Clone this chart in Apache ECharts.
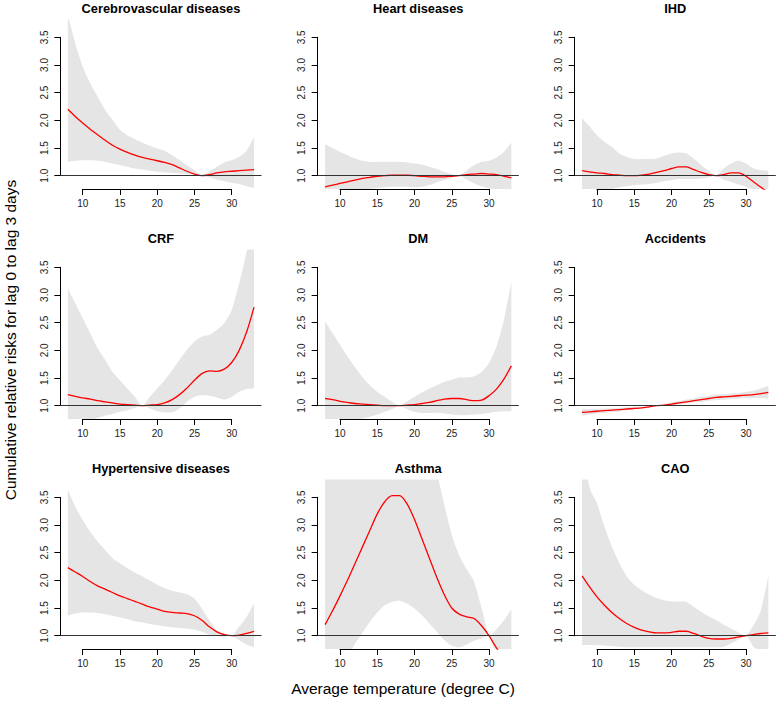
<!DOCTYPE html>
<html><head><meta charset="utf-8">
<script src="https://cdn.jsdelivr.net/npm/echarts@6/dist/echarts.min.js"></script>
<style>html,body{margin:0;padding:0;background:#fff}#c{width:779px;height:701px}</style>
</head><body><div id="c"></div>
<script>
// ---------- data ----------
const temps = [8,9,10,11,12,13,14,15,16,17,18,19,20,21,22,23,24,25,26,27,28,29,30,31,32,33];
const titles = ['Cerebrovascular diseases','Heart diseases','IHD','CRF','DM','Accidents','Hypertensive diseases','Asthma','CAO'];
const xTickValues = [10,15,20,25,30];
const yTickValues = [1.0,1.5,2.0,2.5,3.0,3.5];
const xAxisTitle = 'Average temperature (degree C)';
const yAxisTitle = 'Cumulative relative risks for lag 0 to lag 3 days';

const cerebEst = [2.20,2.07,1.95,1.84,1.74,1.64,1.55,1.48,1.42,1.37,1.33,1.30,1.27,1.24,1.20,1.14,1.08,1.03,1.00,1.02,1.05,1.07,1.08,1.09,1.10,1.11];
const cerebHi  = [3.90,3.39,2.97,2.67,2.43,2.19,2.01,1.83,1.73,1.66,1.60,1.54,1.49,1.45,1.37,1.28,1.19,1.10,1.00,1.08,1.16,1.24,1.28,1.34,1.45,1.70];
const cerebLo  = [1.25,1.27,1.28,1.28,1.27,1.25,1.22,1.19,1.16,1.13,1.11,1.09,1.07,1.06,1.05,1.04,1.03,1.02,1.00,0.97,0.93,0.90,0.87,0.85,0.81,0.78];

const heartEst = [0.80,0.83,0.86,0.89,0.92,0.95,0.97,0.99,1.00,1.01,1.01,1.01,1.00,0.99,0.98,0.98,0.98,0.99,1.00,1.02,1.03,1.04,1.03,1.02,0.99,0.96];
const heartHi  = [1.57,1.50,1.43,1.37,1.31,1.27,1.25,1.25,1.25,1.25,1.25,1.24,1.22,1.20,1.16,1.12,1.07,1.03,1.00,1.10,1.19,1.25,1.27,1.33,1.43,1.60];
const heartLo  = [0.55,0.60,0.64,0.68,0.71,0.74,0.76,0.78,0.79,0.80,0.80,0.80,0.79,0.80,0.83,0.88,0.92,0.96,1.00,0.93,0.86,0.81,0.77,0.74,0.70,0.66];

const ihdEst = [1.09,1.07,1.05,1.04,1.02,1.01,1.00,1.00,1.01,1.03,1.06,1.09,1.13,1.16,1.16,1.11,1.06,1.02,1.00,1.02,1.05,1.05,0.99,0.89,0.79,0.70];
const ihdHi  = [2.04,1.89,1.73,1.61,1.52,1.40,1.34,1.30,1.30,1.30,1.31,1.36,1.40,1.42,1.40,1.31,1.19,1.09,1.00,1.13,1.22,1.27,1.22,1.13,1.10,1.09];
const ihdLo  = [0.55,0.62,0.68,0.72,0.76,0.79,0.81,0.83,0.84,0.85,0.87,0.90,0.92,0.94,0.94,0.94,0.95,0.97,1.00,0.93,0.89,0.84,0.80,0.74,0.68,0.62];

const crfEst = [1.20,1.17,1.14,1.12,1.09,1.07,1.05,1.03,1.02,1.01,1.00,1.01,1.02,1.05,1.11,1.20,1.32,1.46,1.58,1.63,1.62,1.66,1.78,2.00,2.33,2.78];
const crfHi  = [3.12,2.85,2.58,2.31,2.04,1.83,1.61,1.46,1.31,1.16,1.00,1.16,1.31,1.46,1.64,1.83,2.01,2.16,2.25,2.28,2.37,2.49,2.73,3.21,3.78,4.50];
const crfLo  = [0.62,0.66,0.70,0.74,0.78,0.82,0.85,0.89,0.92,0.96,1.00,0.95,0.90,0.88,0.88,0.95,1.07,1.16,1.19,1.18,1.15,1.11,1.16,1.25,1.30,1.31];

const dmEst = [1.13,1.11,1.08,1.06,1.04,1.03,1.02,1.01,1.00,1.00,1.00,1.01,1.02,1.04,1.06,1.09,1.12,1.13,1.13,1.11,1.09,1.10,1.18,1.30,1.48,1.72];
const dmHi  = [2.52,2.31,2.10,1.89,1.70,1.52,1.37,1.25,1.16,1.07,1.00,1.08,1.16,1.24,1.31,1.37,1.43,1.47,1.51,1.51,1.53,1.61,1.77,2.07,2.55,3.24];
const dmLo  = [0.55,0.60,0.65,0.69,0.73,0.77,0.80,0.84,0.89,0.94,1.00,0.94,0.89,0.87,0.87,0.87,0.86,0.84,0.83,0.83,0.84,0.85,0.87,0.89,0.90,0.90];

const accEst = [0.88,0.89,0.90,0.91,0.92,0.93,0.94,0.95,0.96,0.98,1.00,1.01,1.03,1.05,1.07,1.09,1.11,1.13,1.15,1.16,1.17,1.18,1.19,1.20,1.22,1.24];
const accHi  = [0.94,0.94,0.94,0.95,0.95,0.96,0.97,0.98,0.98,0.99,1.00,1.03,1.06,1.08,1.11,1.13,1.16,1.18,1.20,1.21,1.22,1.23,1.25,1.27,1.31,1.36];
const accLo  = [0.82,0.84,0.86,0.87,0.89,0.90,0.92,0.93,0.95,0.97,1.00,1.00,1.01,1.02,1.04,1.06,1.07,1.09,1.10,1.11,1.12,1.13,1.14,1.14,1.14,1.13];

const hyperEst = [2.23,2.15,2.07,1.98,1.90,1.84,1.78,1.72,1.67,1.62,1.57,1.52,1.48,1.44,1.42,1.41,1.40,1.36,1.28,1.16,1.07,1.02,1.00,1.01,1.04,1.08];
const hyperHi  = [3.64,3.33,3.09,2.88,2.70,2.55,2.40,2.31,2.22,2.14,2.07,2.00,1.92,1.86,1.81,1.78,1.75,1.67,1.49,1.28,1.10,1.04,1.00,1.16,1.34,1.58];
const hyperLo  = [1.36,1.40,1.42,1.42,1.41,1.39,1.36,1.33,1.30,1.26,1.24,1.21,1.19,1.17,1.15,1.14,1.13,1.11,1.07,1.02,0.99,0.98,1.00,0.92,0.84,0.79];

const asthmaEst = [1.20,1.45,1.72,2.00,2.30,2.60,2.90,3.20,3.42,3.53,3.53,3.38,3.10,2.75,2.40,2.05,1.74,1.50,1.39,1.34,1.31,1.18,1.00,0.78,0.58,0.42];
const asthmaHi  = [5.00,5.00,5.00,5.00,5.00,5.00,5.00,5.00,5.00,5.00,5.00,5.00,5.00,5.00,4.60,3.95,3.37,2.82,2.45,2.20,1.97,1.50,1.01,1.12,1.28,1.47];
const asthmaLo  = [0.30,0.40,0.50,0.62,0.85,1.05,1.25,1.42,1.55,1.61,1.63,1.58,1.49,1.37,1.22,1.07,0.92,0.82,0.79,0.84,0.91,0.95,0.99,0.65,0.45,0.30];

const caoEst = [2.08,1.88,1.70,1.55,1.42,1.31,1.22,1.15,1.10,1.07,1.05,1.05,1.06,1.08,1.08,1.04,0.99,0.95,0.94,0.94,0.95,0.98,1.00,1.02,1.04,1.05];
const caoHi  = [4.40,3.68,3.39,2.97,2.61,2.31,2.07,1.92,1.82,1.74,1.68,1.64,1.62,1.62,1.61,1.52,1.43,1.35,1.28,1.20,1.13,1.06,1.00,1.19,1.46,2.07];
const caoLo  = [0.83,0.83,0.83,0.82,0.81,0.80,0.79,0.79,0.79,0.79,0.79,0.79,0.79,0.79,0.79,0.79,0.79,0.79,0.79,0.80,0.86,0.93,1.00,0.80,0.70,0.62];

const panelEst = [cerebEst, heartEst, ihdEst, crfEst, dmEst, accEst, hyperEst, asthmaEst, caoEst];
const panelHi  = [cerebHi, heartHi, ihdHi, crfHi, dmHi, accHi, hyperHi, asthmaHi, caoHi];
const panelLo  = [cerebLo, heartLo, ihdLo, crfLo, dmLo, accLo, hyperLo, asthmaLo, caoLo];

// ---------- layout ----------
const FONT = '"Liberation Sans", Arial, Helvetica, sans-serif';
const colX10 = [82.7, 340, 597];     // pixel of x = 10 per column
const rowY35 = [37.3, 267.3, 497.3]; // pixel of y = 3.5 per row
const pxX = 7.45, pxY = 55.36;
const xLo = 7, xHi = 34, yLo = 0.76, yHi = 3.82;

const grids = [], xAxes = [], yAxes = [], series = [], graphics = [];
const xMin = xTickValues[0], xMax = xTickValues[xTickValues.length-1];
const yMin = yTickValues[0], yMax = yTickValues[yTickValues.length-1];

// smooth a pixel polyline (rendering only) with cardinal-style bezier sampling
function smoothPixels(pts, k) {
  const out = [];
  const n = pts.length;
  for (let i = 0; i < n - 1; i++) {
    const p0 = pts[Math.max(i - 1, 0)], p1 = pts[i], p2 = pts[i + 1], p3 = pts[Math.min(i + 2, n - 1)];
    const c1 = [p1[0] + (p2[0] - p0[0]) * k, p1[1] + (p2[1] - p0[1]) * k];
    const c2 = [p2[0] - (p3[0] - p1[0]) * k, p2[1] - (p3[1] - p1[1]) * k];
    const steps = 8;
    for (let s = 0; s < steps; s++) {
      const t = s / steps, u = 1 - t;
      out.push([
        u*u*u*p1[0] + 3*u*u*t*c1[0] + 3*u*t*t*c2[0] + t*t*t*p2[0],
        u*u*u*p1[1] + 3*u*u*t*c1[1] + 3*u*t*t*c2[1] + t*t*t*p2[1]
      ]);
    }
  }
  out.push(pts[n - 1]);
  return out;
}

function bandRenderer(lo, hi) {
  return function (params, api) {
    if (params.dataIndex !== 0) return null;
    const up = [], dn = [];
    for (let i = 0; i < temps.length; i++) up.push(api.coord([temps[i], hi[i]]));
    for (let i = temps.length - 1; i >= 0; i--) dn.push(api.coord([temps[i], lo[i]]));
    const pts = smoothPixels(up, 0.12).concat(smoothPixels(dn, 0.12));
    return {type:'polygon', shape:{points: pts}, style:{fill:'#E5E5E5', stroke:null}};
  };
}

for (let p = 0; p < 9; p++) {
  const r = Math.floor(p / 3), c = p % 3;
  const x10 = colX10[c], y35 = rowY35[r];
  const aLeft = x10 - (xMin - xLo) * pxX;
  const aWidth = (xHi - xLo) * pxX;
  const aTop = y35 - (yHi - yMax) * pxY;
  const aHeight = (yHi - yLo) * pxY;
  // plot region grid
  grids.push({left: aLeft, top: aTop, width: aWidth, height: aHeight});
  xAxes.push({type:'value', gridIndex: 2*p, min: xLo, max: xHi, show: false});
  yAxes.push({type:'value', gridIndex: 2*p, min: yLo, max: yHi, show: false});
  // decoration grid for R-style axes
  grids.push({left: x10, top: y35, width: (xMax - xMin) * pxX, height: (yMax - yMin) * pxY});
  xAxes.push({type:'value', gridIndex: 2*p+1, min: xMin, max: xMax, interval: 5,
    position:'bottom', offset: (yMin - yLo) * pxY,
    axisLine:{show:true, lineStyle:{color:'#000', width:1}},
    axisTick:{show:true, length:6, inside:false, lineStyle:{color:'#000', width:1}},
    axisLabel:{show:true, margin:10, color:'#222', fontSize:10, fontFamily: FONT},
    splitLine:{show:false}});
  yAxes.push({type:'value', gridIndex: 2*p+1, min: yMin, max: yMax, interval: 0.5,
    position:'left', offset: (xMin - xLo) * pxX,
    axisLine:{show:true, lineStyle:{color:'#000', width:1}},
    axisTick:{show:true, length:6, inside:false, lineStyle:{color:'#000', width:1}},
    axisLabel:{show:true, rotate:90, margin:11, color:'#222', fontSize:10, fontFamily: FONT,
      formatter: v => v.toFixed(1)},
    splitLine:{show:false}});

  const est = panelEst[p], hi = panelHi[p], lo = panelLo[p];
  series.push({type:'custom', xAxisIndex:2*p, yAxisIndex:2*p, clip:true, silent:true, z:1,
    data: temps.map((t,i)=>[t, lo[i], hi[i]]),
    encode:{x:0, y:[1,2]},
    renderItem: bandRenderer(lo, hi)});
  series.push({type:'line', xAxisIndex:2*p, yAxisIndex:2*p, symbol:'none', silent:true, z:2,
    data: [],
    markLine:{symbol:['none','none'], silent:true, label:{show:false},
      lineStyle:{color:'#333', width:1, type:'solid'}, data:[{yAxis:1}]}});
  series.push({type:'line', xAxisIndex:2*p, yAxisIndex:2*p, smooth:0.3, symbol:'none', silent:true, z:3,
    lineStyle:{color:'#FF0000', width:1.3},
    data: temps.map((t,i)=>[t, est[i]])});

  graphics.push({type:'text', x: aLeft + aWidth/2, y: y35 - 29,
    style:{text: titles[p], fill:'#000', font: 'bold 12.8px ' + FONT, textAlign:'center', textVerticalAlign:'middle'}});
}
graphics.push({type:'text', x: 10, y: 340, rotation: Math.PI/2,
  style:{text: yAxisTitle, fill:'#000', font: '15.5px ' + FONT, textAlign:'center', textVerticalAlign:'middle'}});
graphics.push({type:'text', x: 403, y: 688,
  style:{text: xAxisTitle, fill:'#000', font: '15.5px ' + FONT, textAlign:'center', textVerticalAlign:'middle'}});

const chart = echarts.init(document.getElementById('c'), null, {renderer:'svg'});
chart.setOption({
  animation:false,
  backgroundColor:'#fff',
  grid: grids, xAxis: xAxes, yAxis: yAxes, series: series,
  graphic: graphics
});
</script></body></html>
